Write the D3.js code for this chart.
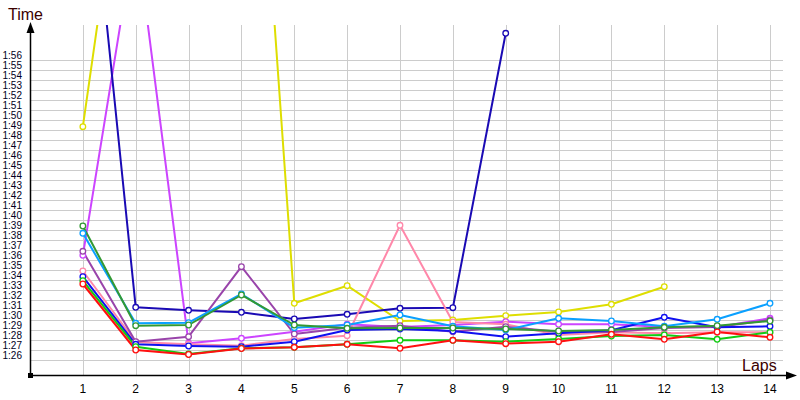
<!DOCTYPE html>
<html><head><meta charset="utf-8">
<script src="https://cdn.jsdelivr.net/npm/d3@7"></script>
<style>body{margin:0;background:#fff}svg{display:block}</style>
</head><body>
<svg id="c" width="800" height="400"></svg>
<script>
const laps = [1,2,3,4,5,6,7,8,9,10,11,12,13,14];
const yTicks = d3.range(86, 117); // 1:26 .. 1:56 in seconds
const seriesNames = ["yellow","violet","darkblue","pink","purple","blue","lightblue","darkgreen","green","red"];
const seriesColors = ["#dede00","#cc44ff","#1a0ab4","#ff88aa","#9944aa","#1010f0","#0aa0ff","#339933","#11cc11","#ff1010"];
const yellow    = [109.33,146.5,150,166.5,91.67,93.43,89.9,90.0,90.43,90.8,91.57,93.33,null,null];
const violet    = [96.47,129,87.67,88.17,88.83,89.57,89.3,89.5,89.83,89.57,89.57,89.3,89.3,90.17];
const darkblue  = [143,91.27,90.97,90.77,90.1,90.57,91.17,91.23,118.67,null,null,null,null,null];
const pink      = [94.9,87.8,87.57,87.43,88.1,88.43,99.47,89.8,89.57,88.5,88.77,88.67,88.77,88.77];
const purple    = [96.87,87.83,88.33,95.33,88.6,89.23,89.43,88.83,89.33,88.83,88.8,89.2,89.3,90.0];
const blue      = [94.33,87.57,87.4,87.33,87.83,89.0,89.1,88.9,88.33,88.67,88.97,90.27,89.27,89.37];
const lightblue = [98.67,89.67,89.73,92.6,89.23,89.5,90.5,89.37,89.0,90.17,89.9,89.37,90.07,91.67];
const darkgreen = [99.4,89.43,89.5,92.5,89.5,89.17,89.2,89.2,89.1,88.9,89.0,89.27,89.43,89.9];
const green     = [93.93,87.33,86.6,87.17,87.27,87.57,87.97,87.97,87.83,88.1,88.4,88.5,88.07,88.77];
const red       = [93.6,87.0,86.55,87.15,87.27,87.57,87.17,87.97,87.63,87.83,88.57,88.07,88.8,88.27];
const seriesValues = [yellow,violet,darkblue,pink,purple,blue,lightblue,darkgreen,green,red];

const svg = d3.select("#c");
const x = d3.scaleLinear().domain([0,14]).range([30,770]);
const y = d3.scaleLinear().domain([86,116]).range([360,60]);
const plotTop = 25, plotBottom = 375, plotRight = 783;

const fmt = s => Math.floor(s/60) + ":" + String(Math.round(s%60)).padStart(2,"0");

// grid
const g = svg.append("g");
g.selectAll("line.h").data(yTicks).join("line")
  .attr("x1",30).attr("x2",plotRight).attr("y1",d=>y(d)+0.5).attr("y2",d=>y(d)+0.5)
  .attr("stroke","#cccccc").attr("stroke-width",1);
g.selectAll("line.v").data(laps).join("line")
  .attr("x1",d=>Math.round(x(d))+0.5).attr("x2",d=>Math.round(x(d))+0.5).attr("y1",plotTop).attr("y2",plotBottom)
  .attr("stroke","#cccccc").attr("stroke-width",1);

// y tick labels
svg.append("g").selectAll("text").data(yTicks).join("text")
  .attr("x",22).attr("y",d=>y(d)-1.5).attr("text-anchor","end")
  .attr("font-family","Liberation Sans, Arial, sans-serif").attr("font-size",10)
  .attr("fill","#000022").text(fmt);

// x tick labels
svg.append("g").selectAll("text").data(laps).join("text")
  .attr("x",d=>x(d)).attr("y",393).attr("text-anchor","middle")
  .attr("font-family","Liberation Sans, Arial, sans-serif").attr("font-size",12)
  .attr("fill","#000000").text(d=>d);

// clip
svg.append("clipPath").attr("id","clip").append("rect")
  .attr("x",30).attr("y",plotTop).attr("width",760).attr("height",plotBottom-plotTop);

const line = d3.line().defined(d=>d.v!=null).x(d=>x(d.lap)).y(d=>y(d.v));
const lines = svg.append("g").attr("clip-path","url(#clip)");
seriesValues.forEach((vals,i)=>{
  const pts = laps.map((l,j)=>({lap:l,v:vals[j]}));
  lines.append("path").datum(pts).attr("d",line).attr("fill","none")
    .attr("stroke",seriesColors[i]).attr("stroke-width",2).attr("stroke-linejoin","round");
});
seriesValues.forEach((vals,i)=>{
  const pts = laps.map((l,j)=>({lap:l,v:vals[j]})).filter(d=>d.v!=null);
  lines.selectAll(null).data(pts).join("circle")
    .attr("cx",d=>x(d.lap)).attr("cy",d=>y(d.v)).attr("r",2.8)
    .attr("fill","#fff").attr("stroke",seriesColors[i]).attr("stroke-width",1.3);
});

// axes
svg.append("line").attr("x1",30.5).attr("x2",30.5).attr("y1",plotBottom).attr("y2",30).attr("stroke","#000").attr("stroke-width",1.5);
svg.append("path").attr("d","M30.5,22 L26.5,33 L34.5,33 Z").attr("fill","#000");
svg.append("line").attr("x1",30).attr("x2",790).attr("y1",plotBottom+0.5).attr("y2",plotBottom+0.5).attr("stroke","#000").attr("stroke-width",1.5);
svg.append("path").attr("d","M797,375.5 L786,371.5 L786,379.5 Z").attr("fill","#000");
svg.append("rect").attr("x",28).attr("y",373).attr("width",5).attr("height",5).attr("fill","#000");

svg.append("text").attr("x",8).attr("y",20).attr("font-family","Liberation Sans, Arial, sans-serif")
  .attr("font-size",16).attr("fill","#3a0000").text("Time");
svg.append("text").attr("x",742).attr("y",371).attr("font-family","Liberation Sans, Arial, sans-serif")
  .attr("font-size",16).attr("fill","#3a0000").text("Laps");
</script>
</body></html>
